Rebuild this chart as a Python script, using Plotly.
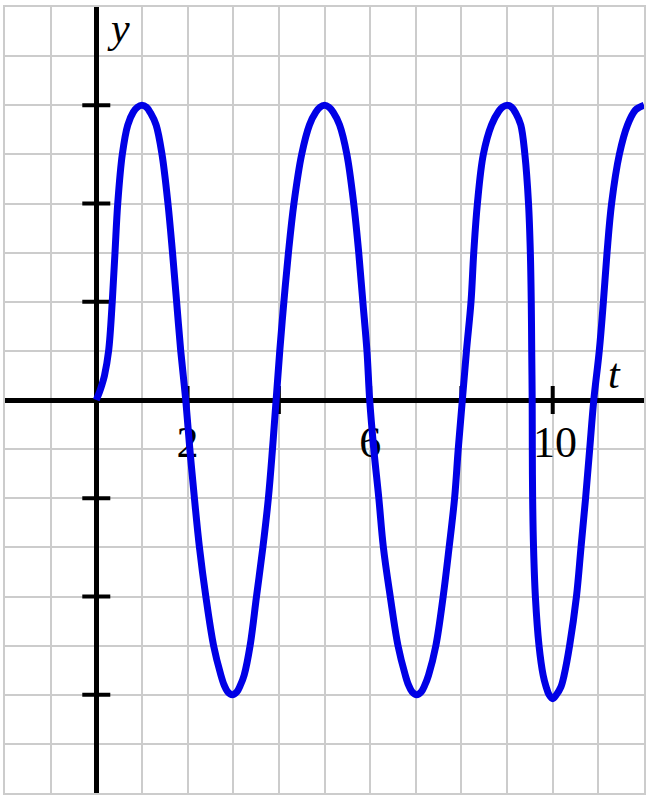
import plotly.graph_objects as go

# curve: t values and y values
t_vals = [0, 0.07, 0.12, 0.18, 0.27, 0.35, 0.41, 0.47, 0.57, 0.69, 0.81, 0.90, 1.0, 1.10, 1.19,
          1.31, 1.44, 1.57, 1.67, 1.76, 1.85, 1.96,
          2.05, 2.15, 2.26, 2.40, 2.57, 2.73, 2.80, 2.88, 2.98, 3.08, 3.16, 3.24, 3.37, 3.51, 3.65, 3.77, 3.86, 3.94,
          4.02, 4.11, 4.21, 4.33, 4.50, 4.67, 4.81, 4.90, 5.0, 5.10, 5.19, 5.33, 5.49, 5.64, 5.75, 5.84, 5.93, 5.99,
          6.08, 6.19, 6.29, 6.44, 6.61, 6.77, 6.84, 6.92, 7.02, 7.12, 7.20, 7.28, 7.44, 7.60, 7.73, 7.85, 7.93, 8.02,
          8.11, 8.21, 8.27, 8.35, 8.48, 8.66, 8.82, 8.90, 9.0, 9.10, 9.19, 9.30, 9.39, 9.47, 9.51, 9.53, 9.54, 9.55,
          9.553, 9.56, 9.58, 9.62, 9.70, 9.79, 9.85, 9.92, 10.0, 10.08, 10.18, 10.25, 10.37, 10.52, 10.62, 10.72,
          10.81, 10.90,
          11.02, 11.11, 11.19, 11.29, 11.46, 11.64, 11.81, 11.90, 12.0]
y_vals = [0, 0.08, 0.15, 0.25, 0.5, 1, 1.5, 2, 2.5, 2.8, 2.93, 2.98, 3.0, 2.98, 2.92,
          2.8, 2.5, 2, 1.5, 1, 0.5, 0,
          -0.5, -1, -1.5, -2, -2.5, -2.8, -2.9, -2.97, -3, -2.97, -2.9, -2.8, -2.5, -2, -1.5, -1, -0.5, 0,
          0.5, 1, 1.5, 2, 2.5, 2.8, 2.93, 2.98, 3, 2.98, 2.93, 2.8, 2.5, 2, 1.5, 1, 0.5, 0,
          -0.5, -1, -1.5, -2, -2.5, -2.8, -2.9, -2.97, -3, -2.97, -2.9, -2.8, -2.5, -2, -1.5, -1, -0.5, 0,
          0.5, 1, 1.5, 2, 2.5, 2.8, 2.94, 2.98, 3, 2.98, 2.92, 2.8, 2.5, 2, 1.5, 1, 0.5, 0,
          -0.5, -1, -1.5, -2, -2.5, -2.8, -2.91, -3.0, -3.04, -3.0, -2.92, -2.8, -2.5, -2, -1.5, -1,
          -0.5, 0,
          0.5, 1, 1.5, 2, 2.5, 2.8, 2.95, 2.98, 3.0]

x_ticks = [2, 4, 6, 8, 10]
y_ticks = [-3, -2, -1, 1, 2, 3]
x_tick_labels = ["2", "6", "10"]
x_label_pos = [2, 6, 10.05]

fig = go.Figure()

# little tick marks on the axes
fig.add_trace(go.Scatter(x=x_ticks, y=[0] * len(x_ticks), mode="markers",
                         marker=dict(symbol="line-ns", size=20, line=dict(width=4, color="black")),
                         hoverinfo="skip"))
fig.add_trace(go.Scatter(x=[0] * len(y_ticks), y=y_ticks, mode="markers",
                         marker=dict(symbol="line-ew", size=20, line=dict(width=4, color="black")),
                         hoverinfo="skip"))
# tick numbers, under the curve
fig.add_trace(go.Scatter(x=x_label_pos, y=[-0.47] * len(x_tick_labels), mode="text",
                         text=x_tick_labels,
                         textfont=dict(family="Liberation Serif", size=44, color="black"),
                         hoverinfo="skip"))

fig.add_trace(go.Scatter(x=t_vals, y=y_vals, mode="lines",
                         line=dict(color="#0000e6", width=7, shape="spline", smoothing=1.0)))

fig.add_annotation(x=0.49, y=3.79, text="<i>y</i>", showarrow=False,
                   font=dict(family="Liberation Serif", size=42, color="black"))
fig.add_annotation(x=11.36, y=0.26, text="<i>t</i>", showarrow=False,
                   font=dict(family="Liberation Serif", size=42, color="black"))

fig.update_xaxes(range=[-2, 12], tick0=-2, dtick=1, showticklabels=False, ticks="",
                 showgrid=True, gridcolor="#cccccc", gridwidth=1.5,
                 zeroline=True, zerolinecolor="black", zerolinewidth=5,
                 showline=True, mirror=True, linecolor="#cccccc", linewidth=1.5)
fig.update_yaxes(range=[-4, 4], tick0=-4, dtick=0.5, showticklabels=False, ticks="",
                 showgrid=True, gridcolor="#cccccc", gridwidth=1.5,
                 zeroline=True, zerolinecolor="black", zerolinewidth=5,
                 showline=True, mirror=True, linecolor="#cccccc", linewidth=1.5)

fig.update_layout(width=651, height=801, showlegend=False,
                  margin=dict(l=5, r=5, t=5, b=8),
                  plot_bgcolor="white", paper_bgcolor="white")

fig.write_html("out.html", config={"displayModeBar": False},
               post_script="document.body.style.margin='0';")
